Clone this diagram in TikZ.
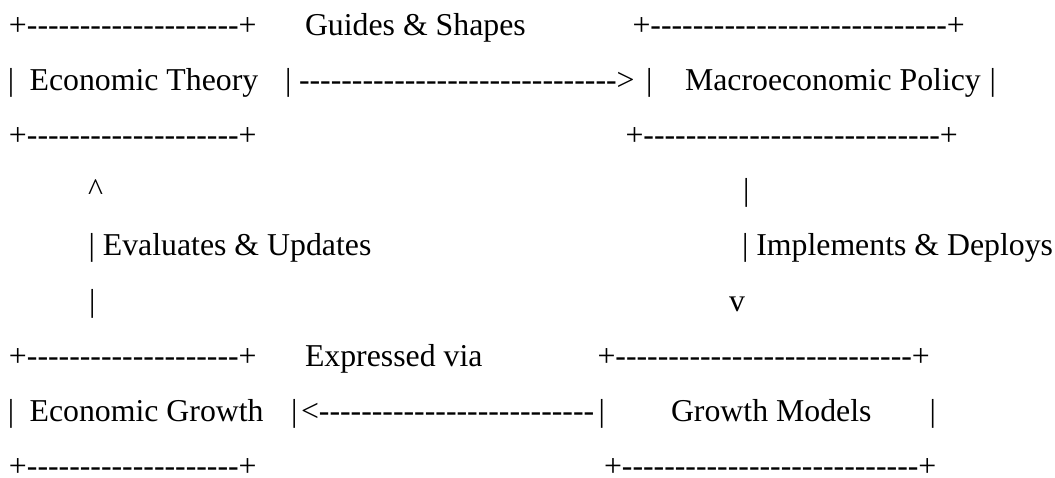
\documentclass[tikz,border=0pt]{standalone}
\usepackage{fontspec}
\newfontfamily\ascfont{Liberation Serif}
\usepackage{tikz}

\tikzset{
  asc/.style={anchor=base west, inner sep=0pt, outer sep=0pt,
    font=\ascfont\fontsize{31.8}{38}\selectfont},
  lastrow/.style={asc, text depth=0pt},
}
% hyphens kept apart so that no dash ligature forms
\newcommand\dashrun[1]{\foreach \k in {1,...,#1}{-\kern0pt}}
\newcommand\boxedge[1]{+\dashrun{#1}+}

\begin{document}
\begin{tikzpicture}[x=1pt,y=-1pt]
  \useasboundingbox (0,0) rectangle (1055,477);
  % theory and policy boxes
  \node[asc] (thtop) at (9,35) {\boxedge{20}};
  \node[asc] (guide) at (305,35) {Guides \& Shapes};
  \node[asc] (potop) at (632.5,35) {\boxedge{28}};
  \node[asc] (thl) at (8,90.2) {|};
  \node[asc] (theory) at (29.6,90.2) {Economic Theory};
  \node[asc] (thr) at (285,90.2) {|};
  \node[asc] (guidearr) at (299,90.2) {\dashrun{30}>};
  \node[asc] (pol) at (646,90.2) {|};
  \node[asc] (policy) at (685,90.2) {Macroeconomic Policy};
  \node[asc] (por) at (989.6,90.2) {|};
  \node[asc] (thbot) at (9,145.4) {\boxedge{20}};
  \node[asc] (pobot) at (625.5,145.4) {\boxedge{28}};
  % vertical links
  \node[asc] (evaltip) at (88,200.6) {\textasciicircum};
  \node[asc] (implstem) at (743,200.6) {|};
  \node[asc] (eval) at (88.6,255.8) {| Evaluates \& Updates};
  \node[asc] (impl) at (742,255.8) {| Implements \& Deploys};
  \node[asc] (evalstem) at (89,311) {|};
  \node[asc] (impltip) at (729,311) {v};
  % growth boxes
  \node[asc] (grtop) at (9,366.2) {\boxedge{20}};
  \node[asc] (expr) at (305,366.2) {Expressed via};
  \node[asc] (motop) at (597.5,366.2) {\boxedge{28}};
  \node[asc] (grl) at (8,421.4) {|};
  \node[asc] (growth) at (29.6,421.4) {Economic Growth};
  \node[asc] (grr) at (291,421.4) {|};
  \node[asc] (exprarr) at (301,421.4) {<\dashrun{26}};
  \node[asc] (mol) at (598.5,421.4) {|};
  \node[asc] (models) at (671,421.4) {Growth Models};
  \node[asc] (mor) at (929.6,421.4) {|};
  \node[lastrow] (grbot) at (9,476.6) {\boxedge{20}};
  \node[lastrow] (mobot) at (604,476.6) {\boxedge{28}};
\end{tikzpicture}
\end{document}
